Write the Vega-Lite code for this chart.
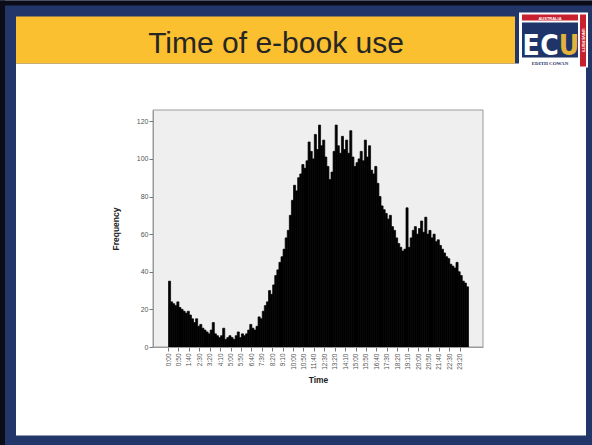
{
  "$schema": "https://vega.github.io/schema/vega-lite/v6.json",
  "width": 330,
  "height": 237,
  "padding": 0,
  "background": "white",
  "config": {"view": {"stroke": null}, "font": "Liberation Sans", "axis": {"labelOverlap": false, "labelBound": false, "labelFlush": false}},
  "data": {"values": [
    {"m":0,"n":35},{"m":10,"n":24},{"m":20,"n":23},{"m":30,"n":22},{"m":40,"n":24},{"m":50,"n":21},
    {"m":60,"n":20},{"m":70,"n":19},{"m":80,"n":18},{"m":90,"n":19},{"m":100,"n":17},{"m":110,"n":15},
    {"m":120,"n":13},{"m":130,"n":15},{"m":140,"n":11},{"m":150,"n":12},{"m":160,"n":10},{"m":170,"n":9},
    {"m":180,"n":8},{"m":190,"n":7},{"m":200,"n":9},{"m":210,"n":13},{"m":220,"n":7},{"m":230,"n":6},
    {"m":240,"n":5},{"m":250,"n":6},{"m":260,"n":10},{"m":270,"n":4},{"m":280,"n":5},{"m":290,"n":6},
    {"m":300,"n":5},{"m":310,"n":4},{"m":320,"n":6},{"m":330,"n":8},{"m":340,"n":5},{"m":350,"n":7},
    {"m":360,"n":6},{"m":370,"n":7},{"m":380,"n":9},{"m":390,"n":12},{"m":400,"n":10},{"m":410,"n":9},
    {"m":420,"n":11},{"m":430,"n":16},{"m":440,"n":15},{"m":450,"n":19},{"m":460,"n":22},{"m":470,"n":24},
    {"m":480,"n":30},{"m":490,"n":28},{"m":500,"n":33},{"m":510,"n":38},{"m":520,"n":41},{"m":530,"n":45},
    {"m":540,"n":48},{"m":550,"n":52},{"m":560,"n":58},{"m":570,"n":62},{"m":580,"n":70},{"m":590,"n":78},
    {"m":600,"n":86},{"m":610,"n":83},{"m":620,"n":90},{"m":630,"n":92},{"m":640,"n":97},{"m":650,"n":95},
    {"m":660,"n":99},{"m":670,"n":109},{"m":680,"n":104},{"m":690,"n":100},{"m":700,"n":113},{"m":710,"n":105},
    {"m":720,"n":118},{"m":730,"n":107},{"m":740,"n":110},{"m":750,"n":101},{"m":760,"n":96},{"m":770,"n":89},
    {"m":780,"n":93},{"m":790,"n":104},{"m":800,"n":118},{"m":810,"n":107},{"m":820,"n":103},{"m":830,"n":112},
    {"m":840,"n":105},{"m":850,"n":110},{"m":860,"n":103},{"m":870,"n":115},{"m":880,"n":101},{"m":890,"n":96},
    {"m":900,"n":98},{"m":910,"n":100},{"m":920,"n":104},{"m":930,"n":99},{"m":940,"n":110},{"m":950,"n":101},
    {"m":960,"n":107},{"m":970,"n":94},{"m":980,"n":92},{"m":990,"n":96},{"m":1000,"n":87},{"m":1010,"n":80},
    {"m":1020,"n":75},{"m":1030,"n":73},{"m":1040,"n":71},{"m":1050,"n":68},{"m":1060,"n":70},{"m":1070,"n":64},
    {"m":1080,"n":62},{"m":1090,"n":58},{"m":1100,"n":55},{"m":1110,"n":53},{"m":1120,"n":51},{"m":1130,"n":52},
    {"m":1140,"n":74},{"m":1150,"n":53},{"m":1160,"n":58},{"m":1170,"n":62},{"m":1180,"n":64},{"m":1190,"n":60},
    {"m":1200,"n":63},{"m":1210,"n":67},{"m":1220,"n":61},{"m":1230,"n":69},{"m":1240,"n":60},{"m":1250,"n":62},
    {"m":1260,"n":58},{"m":1270,"n":60},{"m":1280,"n":56},{"m":1290,"n":57},{"m":1300,"n":54},{"m":1310,"n":52},
    {"m":1320,"n":50},{"m":1330,"n":48},{"m":1340,"n":47},{"m":1350,"n":44},{"m":1360,"n":43},{"m":1370,"n":42},
    {"m":1380,"n":45},{"m":1390,"n":40},{"m":1400,"n":38},{"m":1410,"n":35},{"m":1420,"n":34},{"m":1430,"n":32}
  ]},
  "layer": [
    {"data": {"values": [{}]}, "mark": {"type": "rect", "color": "#22366a"},
     "encoding": {"x": {"datum": -806.4, "type": "quantitative"}, "x2": {"datum": 2035.2}, "y": {"datum": -52.37, "type": "quantitative"}, "y2": {"datum": 184.21}}},
    {"data": {"values": [{}]}, "mark": {"type": "rect", "color": "#0b0c18"},
     "encoding": {"x": {"datum": -806.4, "type": "quantitative"}, "x2": {"datum": -782.4}, "y": {"datum": -52.37, "type": "quantitative"}, "y2": {"datum": 184.21}}},
    {"data": {"values": [{}]}, "mark": {"type": "rect", "color": "#0b0c18"},
     "encoding": {"x": {"datum": -806.4, "type": "quantitative"}, "x2": {"datum": 2035.2}, "y": {"datum": 181.55, "type": "quantitative"}, "y2": {"datum": 184.21}}},
    {"data": {"values": [{}]}, "mark": {"type": "rect", "color": "#ffffff"},
     "encoding": {"x": {"datum": -729.6, "type": "quantitative"}, "x2": {"datum": 2006.4}, "y": {"datum": -47.05, "type": "quantitative"}, "y2": {"datum": 150.72}}},
    {"data": {"values": [{}]}, "mark": {"type": "rect", "color": "#fbc02f"},
     "encoding": {"x": {"datum": -729.6, "type": "quantitative"}, "x2": {"datum": 1665.6}, "y": {"datum": 150.72, "type": "quantitative"}, "y2": {"datum": 175.70}}},
    {"data": {"values": [{}]}, "mark": {"type": "text", "text": "Time of e-book use", "fontSize": 30, "color": "#262626", "align": "center", "baseline": "alphabetic", "font": "Liberation Sans"},
     "encoding": {"x": {"datum": 518.4, "type": "quantitative"}, "y": {"datum": 156.56, "type": "quantitative"}}},
    {"data": {"values": [{}]}, "mark": {"type": "rect", "color": "#ffffff"},
     "encoding": {"x": {"datum": 1684.8, "type": "quantitative"}, "x2": {"datum": 2016}, "y": {"datum": 148.59, "type": "quantitative"}, "y2": {"datum": 177.83}}},
    {"data": {"values": [{}]}, "mark": {"type": "rect", "color": "#c8202f"},
     "encoding": {"x": {"datum": 1699.2, "type": "quantitative"}, "x2": {"datum": 1968}, "y": {"datum": 173.58, "type": "quantitative"}, "y2": {"datum": 176.77}}},
    {"data": {"values": [{}]}, "mark": {"type": "rect", "color": "#1f3468"},
     "encoding": {"x": {"datum": 1699.2, "type": "quantitative"}, "x2": {"datum": 1968}, "y": {"datum": 153.9, "type": "quantitative"}, "y2": {"datum": 172.51}}},
    {"data": {"values": [{}]}, "mark": {"type": "rect", "color": "#c8202f"},
     "encoding": {"x": {"datum": 1977.6, "type": "quantitative"}, "x2": {"datum": 2006.4}, "y": {"datum": 149.12, "type": "quantitative"}, "y2": {"datum": 176.77}}},
    {"data": {"values": [{}]}, "mark": {"type": "text", "text": "AUSTRALIA", "fontSize": 4, "fontWeight": "bold", "color": "#ffffff", "align": "center", "baseline": "alphabetic"},
     "encoding": {"x": {"datum": 1833.6, "type": "quantitative"}, "y": {"datum": 174.1, "type": "quantitative"}}},
    {"data": {"values": [{}]}, "mark": {"type": "text", "text": "E", "fontSize": 28, "fontWeight": "bold", "color": "#ffffff", "align": "center", "baseline": "alphabetic", "font": "'DejaVu Sans Condensed', 'Liberation Sans', sans-serif"},
     "encoding": {"x": {"datum": 1742.4, "type": "quantitative"}, "y": {"datum": 155.5, "type": "quantitative"}}},
    {"data": {"values": [{}]}, "mark": {"type": "text", "text": "C", "fontSize": 28, "fontWeight": "bold", "color": "#ffffff", "align": "center", "baseline": "alphabetic", "font": "'DejaVu Sans Condensed', 'Liberation Sans', sans-serif"},
     "encoding": {"x": {"datum": 1831.2, "type": "quantitative"}, "y": {"datum": 155.5, "type": "quantitative"}}},
    {"data": {"values": [{}]}, "mark": {"type": "text", "text": "U", "fontSize": 28, "fontWeight": "bold", "color": "#e3b23c", "align": "center", "baseline": "alphabetic", "font": "'DejaVu Sans Condensed', 'Liberation Sans', sans-serif"},
     "encoding": {"x": {"datum": 1924.8, "type": "quantitative"}, "y": {"datum": 155.5, "type": "quantitative"}}},
    {"data": {"values": [{}]}, "mark": {"type": "text", "text": "EDITH COWAN", "fontSize": 5, "fontWeight": "bold", "color": "#1f3468", "align": "center", "baseline": "alphabetic", "font": "Liberation Serif"},
     "encoding": {"x": {"datum": 1833.6, "type": "quantitative"}, "y": {"datum": 149.9, "type": "quantitative"}}},
    {"data": {"values": [{}]}, "mark": {"type": "text", "text": "UNIVERSITY", "fontSize": 4, "fontWeight": "bold", "color": "#ffffff", "align": "center", "baseline": "middle", "angle": 90},
     "encoding": {"x": {"datum": 1992, "type": "quantitative"}, "y": {"datum": 163, "type": "quantitative"}}},
    {"data": {"values": [{}]}, "mark": {"type": "rect", "color": "#efefef", "stroke": "#9a9a9a", "strokeWidth": 1},
     "encoding": {"x": {"datum": -72, "type": "quantitative"}, "x2": {"datum": 1512}, "y": {"datum": 0, "type": "quantitative"}, "y2": {"datum": 126}}},
    {"mark": {"type": "rect", "color": "#000000", "stroke": "#000000", "strokeWidth": 0.7},
     "encoding": {
       "x": {"field": "m", "type": "quantitative", "bin": {"binned": true, "step": 10},
             "scale": {"domain": [-72, 1512], "nice": false, "zero": false},
             "axis": {"title": "Time", "zindex": 1, "labelOverlap": false, "values": [0,50,100,150,200,250,300,350,400,450,500,550,600,650,700,750,800,850,900,950,1000,1050,1100,1150,1200,1250,1300,1350,1400],
                      "labelExpr": "floor(datum.value/60) + ':' + (datum.value % 60 == 0 ? '00' : '' + (datum.value % 60))",
                      "labelAngle": 270, "labelFontSize": 6.5, "labelColor": "#555555", "labelPadding": 2, "tickSize": 4, "tickColor": "#777777",
                      "domainColor": "#9a9a9a", "grid": false, "titleFontSize": 8.5, "titleFontWeight": "bold", "titleColor": "#222222", "titlePadding": 6, "labelFont": "Liberation Sans", "titleFont": "Liberation Sans"}},
       "y": {"field": "n", "type": "quantitative",
             "scale": {"domain": [0, 126], "nice": false, "zero": false},
             "axis": {"title": "Frequency", "zindex": 1, "labelOverlap": false, "tickCount": 7, "values": [0,20,40,60,80,100,120], "labelFontSize": 7, "labelColor": "#555555", "labelPadding": 1, "tickSize": 4, "tickColor": "#777777",
                      "domainColor": "#9a9a9a", "grid": false, "titleFontSize": 8.5, "titleFontWeight": "bold", "titleColor": "#222222", "titlePadding": 16, "labelFont": "Liberation Sans", "titleFont": "Liberation Sans"}}
     }}
  ]
}
